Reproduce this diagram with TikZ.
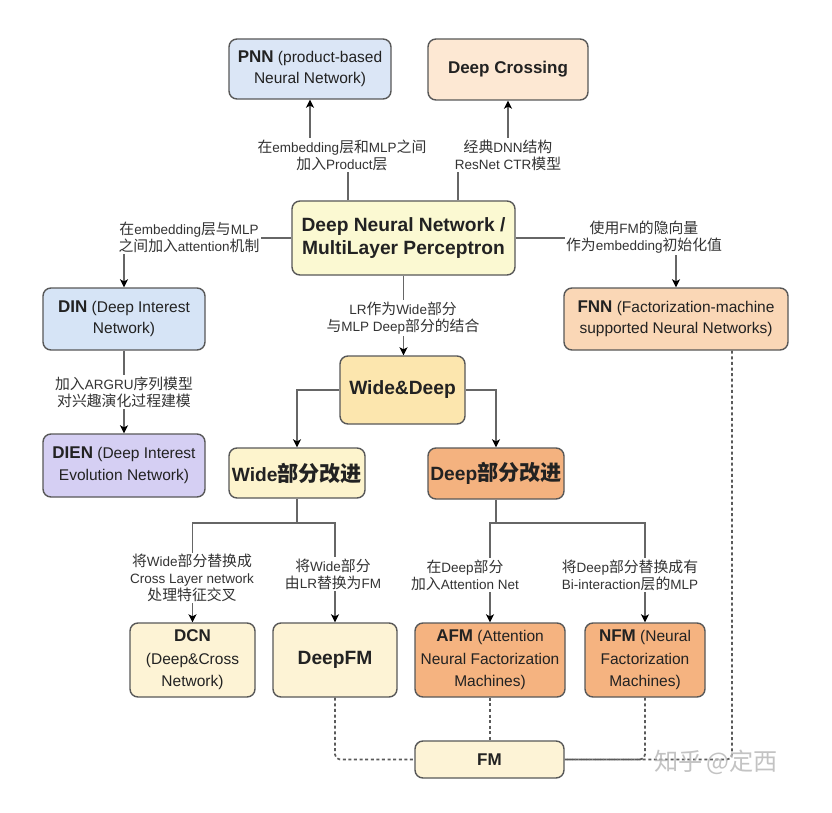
\documentclass[tikz,border=0pt]{standalone}
\usepackage{fontspec}
\setmainfont{Liberation Sans}
\newfontfamily\cjk{Noto Sans CJK SC}[Scale=1.1]
\usetikzlibrary{arrows.meta}
\pgfdeclarelayer{back}
\pgfdeclarelayer{lines}
\pgfsetlayers{back,lines,main}
\newcommand{\zh}[1]{{\cjk #1}}
\newcommand{\boxfont}{\fontsize{15.5}{21.5}\selectfont}
\newcommand{\tfont}{\fontsize{17}{21}\selectfont\bfseries}
\newcommand{\bigfont}{\fontsize{19.2}{23}\selectfont\bfseries}
\newcommand{\labfont}{\fontsize{13.5}{17}\selectfont}
\definecolor{boxline}{HTML}{585858}
\definecolor{lineclr}{HTML}{666666}
\definecolor{dotclr}{HTML}{5A5A5A}
\definecolor{pnnfill}{HTML}{DBE6F6}
\definecolor{dinfill}{HTML}{D6E4F6}
\definecolor{dienfill}{HTML}{D5CFF3}
\definecolor{dcfill}{HTML}{FDE8D3}
\definecolor{dnnfill}{HTML}{FBF9D2}
\definecolor{wdfill}{HTML}{FCE6AE}
\definecolor{widefill}{HTML}{FDF4CD}
\definecolor{deepfill}{HTML}{F4B27F}
\definecolor{fnnfill}{HTML}{FAD7B6}
\definecolor{dcnfill}{HTML}{FDF3D5}
\definecolor{afmfill}{HTML}{F5B380}
\definecolor{fmfill}{HTML}{FDF3D6}
\definecolor{txt}{HTML}{222222}
\definecolor{labtxt}{HTML}{333333}
\begin{document}
\begin{tikzpicture}[x=1pt,y=-1pt,
  box/.style={draw=boxline, line width=1.4pt, rounded corners=8pt, align=center,
    inner sep=2pt, font=\boxfont, text=txt},
  conn/.style={draw=lineclr, line width=1.3pt},
  arr/.style={conn, -{Stealth[length=8pt,width=8pt,inset=2pt,color=black]}},
  lab/.style={fill=white, inner sep=1.5pt, align=center, font=\labfont, text=labtxt},
  dotl/.style={draw=dotclr, line width=1.7pt, dash pattern=on 3pt off 2.6pt, rounded corners=5pt}]
\begin{pgfonlayer}{back}
\fill[white] (0,0) rectangle (832,813);
\end{pgfonlayer}
\useasboundingbox (0,0) rectangle (832,813);

% boxes
\node[box, fill=pnnfill, minimum width=162pt, minimum height=60pt] (pnn) at (310,69)
  {{\tfont PNN} (product-based\\Neural Network)};
\node[box, fill=dcfill, minimum width=160pt, minimum height=61pt, font=\fontsize{17}{20}\selectfont\bfseries] (dc) at (508,69.5)
  {Deep Crossing};
\node[box, fill=dnnfill, minimum width=223pt, minimum height=74pt, font=\bigfont] (dnn) at (403.5,238)
  {Deep Neural Network /\\MultiLayer Perceptron};
\node[box, fill=dinfill, minimum width=162pt, minimum height=62pt] (din) at (124,319)
  {{\tfont DIN} (Deep Interest\\Network)};
\node[box, fill=dienfill, minimum width=162pt, minimum height=63pt] (dien) at (124,465.5)
  {{\tfont DIEN} (Deep Interest\\Evolution Network)};
\node[box, fill=fnnfill, minimum width=224pt, minimum height=62pt] (fnn) at (676,319)
  {{\tfont FNN} (Factorization-machine\\supported Neural Networks)};
\node[box, fill=wdfill, minimum width=125pt, minimum height=68pt, font=\bigfont] (wd) at (402.5,390)
  {Wide\&Deep};
\node[box, fill=widefill, minimum width=136pt, minimum height=50pt, font=\bigfont] (wide) at (297,473)
  {Wide\zh{部分改进}};
\node[box, fill=deepfill, minimum width=136pt, minimum height=51pt, font=\bigfont] (deep) at (496,473.5)
  {Deep\zh{部分改进}};
\node[box, fill=dcnfill, minimum width=125pt, minimum height=74pt, font=\fontsize{15.5}{22.5}\selectfont] (dcn) at (192.5,660)
  {{\tfont DCN}\\(Deep\&Cross\\Network)};
\node[box, fill=dcnfill, minimum width=124pt, minimum height=74pt, font=\bigfont] (deepfm) at (335,660)
  {DeepFM};
\node[box, fill=afmfill, minimum width=150pt, minimum height=74pt, font=\fontsize{15.5}{22.5}\selectfont] (afm) at (490,660)
  {{\tfont AFM} (Attention\\Neural Factorization\\Machines)};
\node[box, fill=afmfill, minimum width=120pt, minimum height=74pt, font=\fontsize{15.5}{22.5}\selectfont] (nfm) at (645,660)
  {{\tfont NFM} (Neural\\Factorization\\Machines)};
\node[box, fill=fmfill, minimum width=149pt, minimum height=37pt, font=\fontsize{17}{20}\selectfont\bfseries] (fm) at (489.5,759.5)
  {FM};

% label positions
\coordinate (pnnlabc) at (342,155);
\coordinate (dclabc) at (508,155);
\coordinate (wj) at (297,523);
\coordinate (dj) at (496,523);

% connectors
\begin{pgfonlayer}{lines}
\draw[arr] ([xshift=-55.5pt]dnn.north) |- (pnnlabc) -| (pnn.south);
\draw[arr] ([xshift=54.5pt]dnn.north) |- (dclabc) -| (dc.south);
\draw[arr] (dnn.west) -| (din.north);
\draw[arr] (dnn.east) -| (fnn.north);
\draw[arr] (dnn.south) -- (dnn.south |- wd.north);
\draw[arr] (din.south) -- (dien.north);
\draw[arr] (wd.west) -| (wide.north);
\draw[arr] (wd.east) -| (deep.north);
\draw[conn] (wide.south) -- (wide.south |- wj);
\draw[arr] (wide.south |- wj) -| (dcn.north);
\draw[arr] (wide.south |- wj) -| (deepfm.north);
\draw[conn] (deep.south) -- (deep.south |- dj);
\draw[arr] (deep.south |- dj) -| (afm.north);
\draw[arr] (deep.south |- dj) -| (nfm.north);
\draw[dotl] (deepfm.south) |- (fm.west);
\draw[dotl] (afm.south) -- (afm.south |- fm.north);
\draw[dotl] (nfm.south) |- (fm.east);
\draw[dotl] ([xshift=56pt]fnn.south) |- (fm.east);
\end{pgfonlayer}

% labels
\node[lab] (pnnlab) at (pnnlabc) {\zh{在}embedding\zh{层和}MLP\zh{之间}\\\zh{加入}Product\zh{层}};
\node[lab] (dclab) at (dclabc) {\zh{经典}DNN\zh{结构}\\ResNet CTR\zh{模型}};
\node[lab] (dinlab) at (189,237) {\zh{在}embedding\zh{层与}MLP\\\zh{之间加入}attention\zh{机制}};
\node[lab] (fnnlab) at (644,237) {\zh{使用}FM\zh{的隐向量}\\\zh{作为}embedding\zh{初始化值}};
\node[lab] (wdlab) at (403,318) {LR\zh{作为}Wide\zh{部分}\\\zh{与}MLP Deep\zh{部分的结合}};
\node[lab] (dienlab) at (124,392) {\zh{加入}ARGRU\zh{序列模型}\\\zh{对兴趣演化过程建模}};
\node[lab] (dcnlab) at (192,578) {\zh{将}Wide\zh{部分替换成}\\Cross Layer network\\\zh{处理特征交叉}};
\node[lab] (dfmlab) at (333,574) {\zh{将}Wide\zh{部分}\\\zh{由}LR\zh{替换为}FM};
\node[lab] (afmlab) at (465,575) {\zh{在}Deep\zh{部分}\\\zh{加入}Attention Net};
\node[lab] (nfmlab) at (630,575) {\zh{将}Deep\zh{部分替换成有}\\Bi-interaction\zh{层的}MLP};

% watermark
\node[text=gray!55, opacity=0.85, font=\fontsize{22}{22}\selectfont\cjk, inner sep=0pt] (wm) at (716,762) {知乎\,@定西};
\end{tikzpicture}
\end{document}
